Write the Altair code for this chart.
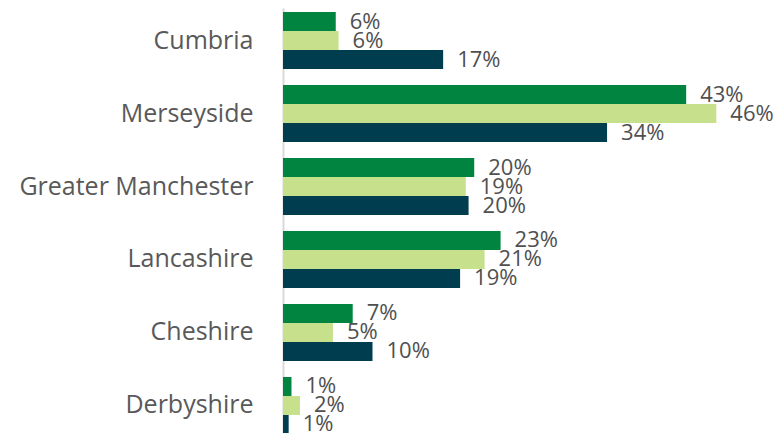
import altair as alt
import pandas as pd

regions = ["Cumbria", "Merseyside", "Greater Manchester", "Lancashire", "Cheshire", "Derbyshire"]
series = ["A", "B", "C"]
vals_a = [5.6, 42.8, 20.3, 23.1, 7.4, 0.9]
vals_b = [5.9, 46.0, 19.4, 21.4, 5.3, 1.8]
vals_c = [17.0, 34.4, 19.7, 18.8, 9.5, 0.6]
colors = ["#00843F", "#C6E08B", "#003D4F"]

rows = []
for i, r in enumerate(regions):
    for s, vals in zip(series, [vals_a, vals_b, vals_c]):
        rows.append({"region": r, "series": s, "value": vals[i] / 100.0})
df = pd.DataFrame(rows)

font = "Open Sans"

y = alt.Y("region:N", sort=regions,
          scale=alt.Scale(range=[0, 430], paddingInner=0.219, paddingOuter=0.055),
          axis=alt.Axis(title=None, ticks=False, labelPadding=30, labelFontSize=25,
                        labelLimit=0, labelFont=font, labelColor="#595959",
                        domainColor="#D9D9D9", domainWidth=2, grid=False))
x = alt.X("value:Q", scale=alt.Scale(domain=[0, 0.5], nice=False), axis=None)
yoff = alt.YOffset("series:N", sort=series)
color = alt.Color("series:N", sort=series, scale=alt.Scale(domain=series, range=colors), legend=None)

base = alt.Chart(df).encode(y=y, x=x, yOffset=yoff)
bars = base.mark_bar(size=19).encode(color=color)
labels = base.mark_text(align="left", baseline="middle", dx=14, fontSize=22, font=font,
                        color="#505050").encode(text=alt.Text("value:Q", format=".0%"))

chart = (bars + labels).properties(
    width=471, height=430,
    autosize=alt.AutoSizeParams(type="none"),
    padding={"left": 275, "top": 0, "right": 21, "bottom": 0},
).configure_view(stroke=None)

chart.save("out.html", embed_options={"renderer": "svg", "actions": False})
